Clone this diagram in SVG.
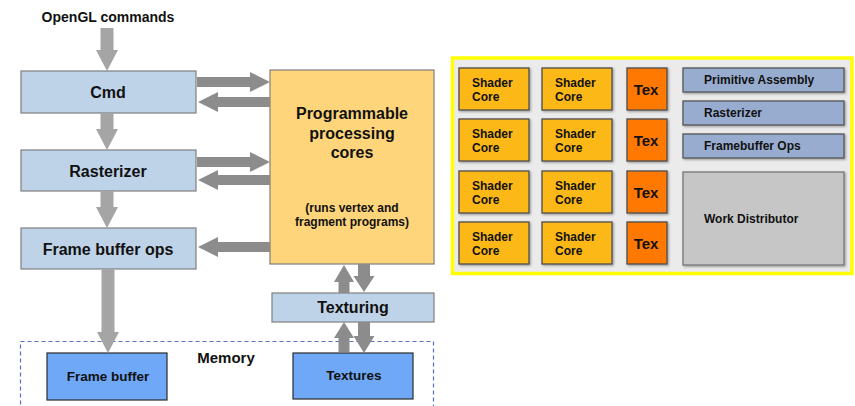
<svg xmlns="http://www.w3.org/2000/svg" width="855" height="406" viewBox="0 0 855 406">
  <defs>
    <filter id="sh" x="-10%" y="-10%" width="130%" height="130%">
      <feDropShadow dx="1.2" dy="1.2" stdDeviation="0.8" flood-color="#000" flood-opacity="0.35"/>
    </filter>
  </defs>
  <style>
    text { font-family: "Liberation Sans", Arial, sans-serif; font-weight: bold; fill: #111; }
    .stage { fill: #bfd3e8; stroke: #7f7f7f; stroke-width: 1.2; }
    .prog { fill: #fed57b; stroke: #7f7f7f; stroke-width: 1.2; }
    .mem { fill: #6fa8f7; stroke: #2b2b2b; stroke-width: 1.2; }
    .memzone { fill: none; stroke: #5b6fc4; stroke-width: 1.2; stroke-dasharray: 4 3; }
    .a-light { fill: #a5a5a5; }
    .a-dark { fill: #8c8c8c; }
    .chip { fill: #ebebeb; stroke: #ffff00; stroke-width: 3.5; }
    .core { fill: #fbb812; stroke: #4d4d4d; stroke-width: 1.3; filter: url(#sh); }
    .tex { fill: #ff7800; stroke: #4d4d4d; stroke-width: 1.3; filter: url(#sh); }
    .fixed { fill: #98acd0; stroke: #555; stroke-width: 1.3; filter: url(#sh); }
    .dist { fill: #c6c6c6; stroke: #777; stroke-width: 1.3; filter: url(#sh); }
    .t16 { font-size: 16px; text-anchor: middle; }
    .t14 { font-size: 14px; text-anchor: middle; }
    .t13 { font-size: 13.5px; text-anchor: middle; }
    .t11 { font-size: 12px; text-anchor: middle; }
    .t12 { font-size: 12px; }
    .t15c { font-size: 15px; text-anchor: middle; }
  </style>

  <!-- pipeline: left side -->
  <text class="t14" x="108" y="22">OpenGL commands</text>

  <g id="memory">
    <rect class="memzone" x="20.5" y="341.5" width="413" height="70"/>
    <text class="t15c" x="226" y="363">Memory</text>
  </g>

  <g id="cmd">
    <rect class="stage" x="21" y="71" width="175" height="42"/>
    <text class="t16" x="108" y="98">Cmd</text>
  </g>
  <g id="rasterizer">
    <rect class="stage" x="21" y="150" width="175" height="41"/>
    <text class="t16" x="108" y="177">Rasterizer</text>
  </g>
  <g id="fbops">
    <rect class="stage" x="21" y="228" width="175" height="41"/>
    <text class="t16" x="108" y="255">Frame buffer ops</text>
  </g>
  <g id="cores">
    <rect class="prog" x="270" y="70" width="164" height="194"/>
    <text class="t16" x="352" y="119">Programmable</text>
    <text class="t16" x="352" y="139">processing</text>
    <text class="t16" x="352" y="158">cores</text>
    <text class="t11" x="352" y="212">(runs vertex and</text>
    <text class="t11" x="352" y="226">fragment programs)</text>
  </g>
  <g id="texturing">
    <rect class="stage" x="272" y="293" width="162" height="29"/>
    <text class="t16" x="353" y="313">Texturing</text>
  </g>
  <g id="framebuffer">
    <rect class="mem" x="47" y="353" width="120" height="47"/>
    <text class="t13" x="108" y="381">Frame buffer</text>
  </g>
  <g id="textures">
    <rect class="mem" x="293" y="353" width="120" height="46"/>
    <text class="t13" x="354" y="380">Textures</text>
  </g>

  <g id="connectors">
    <!-- vertical flow -->
    <path class="a-light" d="M100.5 28 H113.5 V50 H118 L107 71 L96 50 H100.5 Z"/>
    <path class="a-light" d="M100.5 113 H113.5 V129 H118 L107 150 L96 129 H100.5 Z"/>
    <path class="a-light" d="M100.5 191 H113.5 V207 H118 L107 228 L96 207 H100.5 Z"/>
    <path class="a-light" d="M101.5 269 H114.5 V332 H119 L108 353 L97 332 H101.5 Z"/>
    <!-- to and from the programmable cores -->
    <path class="a-dark" d="M197 77 H250 V72 L270 82 L250 92 V87 H197 Z"/>
    <path class="a-dark" d="M270 97 H218 V92 L198 102 L218 112 V107 H270 Z"/>
    <path class="a-dark" d="M197 157 H250 V152 L270 162 L250 172 V167 H197 Z"/>
    <path class="a-dark" d="M270 175 H218 V170 L198 180 L218 190 V185 H270 Z"/>
    <path class="a-dark" d="M270 242 H218 V237 L198 247 L218 257 V252 H270 Z"/>
    <!-- texturing links -->
    <path class="a-dark" d="M338.5 293 V282 H334 L344 265 L354 282 H349.5 V293 Z"/>
    <path class="a-dark" d="M358 264 H370 V276 H374.5 L364 292 L353.5 276 H358 Z"/>
    <path class="a-dark" d="M338.5 352 V338 H334 L344 322 L354 338 H349.5 V352 Z"/>
    <path class="a-dark" d="M358 322 H370 V336 H374.5 L364 353 L353.5 336 H358 Z"/>
  </g>

  <!-- chip layout: right side -->
  <g id="chip">
    <rect class="chip" x="452.5" y="58" width="399.5" height="215.5"/>
  </g>
  <g id="shader-cores">
    <rect class="core" x="459" y="68" width="70" height="42"/>
    <text class="t12" x="472" y="87">Shader</text><text class="t12" x="472" y="101">Core</text>
    <rect class="core" x="542" y="68" width="70" height="42"/>
    <text class="t12" x="555" y="87">Shader</text><text class="t12" x="555" y="101">Core</text>
    <rect class="core" x="459" y="119" width="70" height="42"/>
    <text class="t12" x="472" y="138">Shader</text><text class="t12" x="472" y="152">Core</text>
    <rect class="core" x="542" y="119" width="70" height="42"/>
    <text class="t12" x="555" y="138">Shader</text><text class="t12" x="555" y="152">Core</text>
    <rect class="core" x="459" y="171" width="70" height="42"/>
    <text class="t12" x="472" y="190">Shader</text><text class="t12" x="472" y="204">Core</text>
    <rect class="core" x="542" y="171" width="70" height="42"/>
    <text class="t12" x="555" y="190">Shader</text><text class="t12" x="555" y="204">Core</text>
    <rect class="core" x="459" y="222" width="70" height="42"/>
    <text class="t12" x="472" y="241">Shader</text><text class="t12" x="472" y="255">Core</text>
    <rect class="core" x="542" y="222" width="70" height="42"/>
    <text class="t12" x="555" y="241">Shader</text><text class="t12" x="555" y="255">Core</text>
  </g>
  <g id="tex-units">
    <rect class="tex" x="627" y="68" width="40" height="42"/>
    <text class="t15c" x="646" y="95">Tex</text>
    <rect class="tex" x="627" y="119" width="40" height="42"/>
    <text class="t15c" x="646" y="146">Tex</text>
    <rect class="tex" x="627" y="171" width="40" height="42"/>
    <text class="t15c" x="646" y="198">Tex</text>
    <rect class="tex" x="627" y="222" width="40" height="42"/>
    <text class="t15c" x="646" y="249">Tex</text>
  </g>
  <g id="primitive-assembly">
    <rect class="fixed" x="683" y="68" width="161" height="24"/>
    <text class="t12" x="704" y="84">Primitive Assembly</text>
  </g>
  <g id="chip-rasterizer">
    <rect class="fixed" x="683" y="101" width="161" height="24"/>
    <text class="t12" x="704" y="117">Rasterizer</text>
  </g>
  <g id="framebuffer-ops">
    <rect class="fixed" x="683" y="134" width="161" height="24"/>
    <text class="t12" x="704" y="150">Framebuffer Ops</text>
  </g>
  <g id="work-distributor">
    <rect class="dist" x="683" y="172" width="161" height="93"/>
    <text class="t12" x="704" y="223">Work Distributor</text>
  </g>
</svg>
